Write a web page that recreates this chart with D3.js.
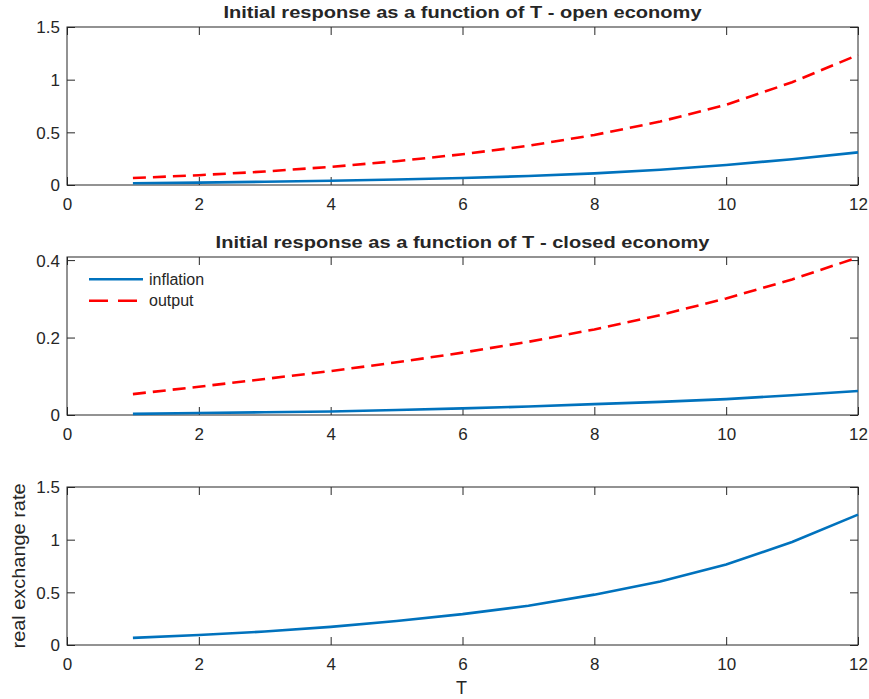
<!DOCTYPE html>
<html><head><meta charset="utf-8">
<script src="https://cdn.jsdelivr.net/npm/d3@7"></script>
<style>
body{margin:0;background:#fff;}
svg text{font-family:"Liberation Sans",Arial,Helvetica,sans-serif;fill:#262626;}
</style></head>
<body>
<svg id="chart" width="869" height="699"></svg>
<script>
const T = [1,2,3,4,5,6,7,8,9,10,11,12];
const openInflation = [0.016,0.023,0.031,0.041,0.052,0.066,0.085,0.11,0.145,0.19,0.245,0.31];
const openOutput = [0.066,0.093,0.128,0.172,0.226,0.292,0.372,0.475,0.602,0.762,0.975,1.235];
const closedInflation = [0.003,0.005,0.007,0.009,0.013,0.017,0.022,0.028,0.034,0.041,0.051,0.062];
const closedOutput = [0.054,0.073,0.093,0.1135,0.136,0.161,0.189,0.221,0.258,0.301,0.350,0.407];
const realExchangeRate = [0.068,0.095,0.128,0.172,0.228,0.293,0.373,0.478,0.602,0.764,0.978,1.238];
const xTicks = [0,2,4,6,8,10,12];
const titles = ["Initial response as a function of T - open economy","Initial response as a function of T - closed economy",""];
const legendLabels = ["inflation","output"];

const svg = d3.select("#chart");
const left = 67, right = 858;
const axisColor = "#262626";
const blue = "#0072BD", red = "#FF0000";

const panels = [
  {top:27, bottom:185, ymax:1.5, yTicks:[0,0.5,1,1.5], series:[openInflation, openOutput], title:titles[0]},
  {top:257, bottom:415, ymax:0.408, yTicks:[0,0.2,0.4], series:[closedInflation, closedOutput], title:titles[1], legend:true},
  {top:487, bottom:645, ymax:1.5, yTicks:[0,0.5,1,1.5], series:[realExchangeRate], title:titles[2], ylabel:"real exchange rate", xlabel:"T"}
];

panels.forEach(p => {
  const x = d3.scaleLinear().domain([0,12]).range([left,right]);
  const y = d3.scaleLinear().domain([0,p.ymax]).range([p.bottom,p.top]);
  const g = svg.append("g");
  const fmt = d => d3.format("")(d);
  const xa = g.append("g").attr("transform",`translate(0,${p.bottom})`)
    .call(d3.axisBottom(x).tickValues(xTicks).tickSize(-8).tickPadding(13).tickFormat(fmt));
  const xt = g.append("g").attr("transform",`translate(0,${p.top})`)
    .call(d3.axisTop(x).tickValues(xTicks).tickSize(-8).tickFormat(""));
  const ya = g.append("g").attr("transform",`translate(${left},0)`)
    .call(d3.axisLeft(y).tickValues(p.yTicks).tickSize(-8).tickPadding(7).tickFormat(fmt));
  const yr = g.append("g").attr("transform",`translate(${right},0)`)
    .call(d3.axisRight(y).tickValues(p.yTicks).tickSize(-8).tickFormat(""));
  [xa,xt,ya,yr].forEach(a=>{
    a.select(".domain").remove();
    a.selectAll("line").attr("stroke",axisColor);
    a.selectAll("text").attr("font-size",17).attr("fill",axisColor)
      .style("font-family","'Liberation Sans',Arial,sans-serif");
  });
  xa.selectAll("text").attr("dy","0.71em");
  ya.selectAll("text").attr("dy","0.35em");
  g.append("rect").attr("x",left).attr("y",p.top).attr("width",right-left).attr("height",p.bottom-p.top)
    .attr("fill","none").attr("stroke",axisColor).attr("stroke-width",1);

  const line = d3.line().x((d,i)=>x(T[i])).y(d=>y(d));
  p.series.forEach((s,k)=>{
    g.append("path").datum(s).attr("d",line).attr("fill","none")
      .attr("stroke", k===0?blue:red).attr("stroke-width",2.6)
      .attr("stroke-dasharray", k===0?null:"13,7");
  });
  if (p.title) {
    const t = g.append("text").attr("x",(left+right)/2).attr("y",p.top-9).attr("text-anchor","middle")
      .attr("font-size",17).attr("font-weight","bold").attr("fill","#000").text(p.title);
    const w = t.node().getComputedTextLength();
    t.attr("textLength", w*1.18).attr("lengthAdjust","spacingAndGlyphs");
  }
  if (p.legend) {
    legendLabels.forEach((lab,k)=>{
      const ly = p.top + 22.3 + k*21.4;
      g.append("line").attr("x1",89).attr("x2",143).attr("y1",ly).attr("y2",ly)
        .attr("stroke",k===0?blue:red).attr("stroke-width",2.6).attr("stroke-dasharray",k===0?null:"19,10");
      g.append("text").attr("x",149).attr("y",ly).attr("dy","0.35em").attr("font-size",16)
        .attr("fill","#000").text(lab);
    });
  }
  if (p.ylabel) {
    g.append("text").attr("transform",`translate(25,${(p.top+p.bottom)/2}) rotate(-90)`)
      .attr("text-anchor","middle").attr("font-size",18).attr("fill",axisColor)
      .attr("textLength",165).attr("lengthAdjust","spacingAndGlyphs").text(p.ylabel);
  }
  if (p.xlabel) {
    g.append("text").attr("x",(left+right)/2 - 1).attr("y",694).attr("text-anchor","middle")
      .attr("font-size",18).attr("fill",axisColor).text(p.xlabel);
  }
});
</script>
</body></html>
